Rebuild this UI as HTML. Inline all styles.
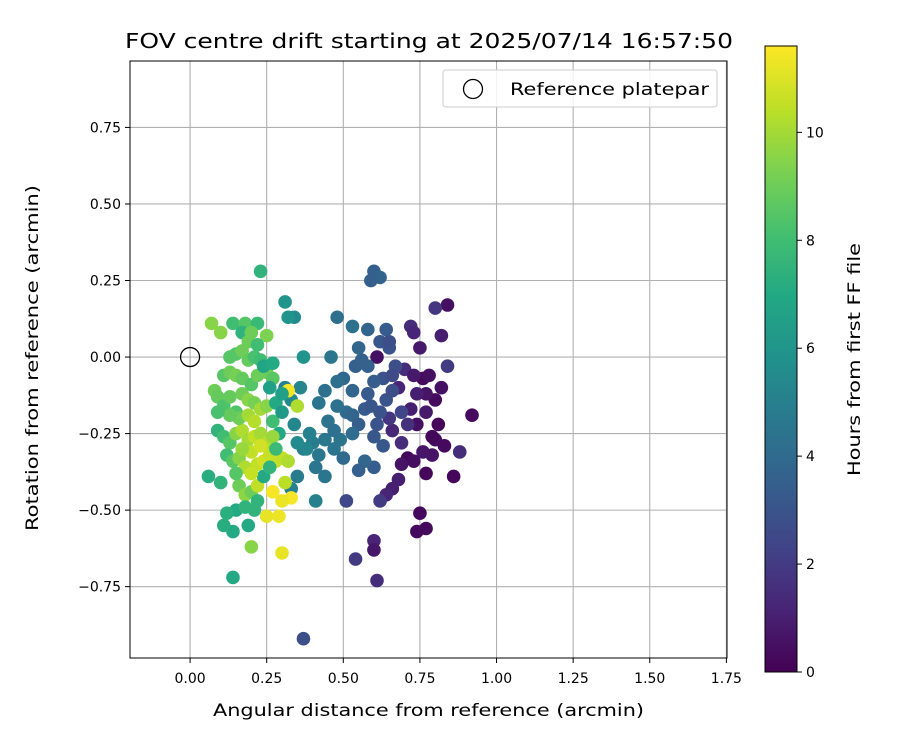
<!DOCTYPE html>
<html><head><meta charset="utf-8"><style>body{margin:0;background:#fff}svg{display:block;font-family:"DejaVu Sans","Liberation Sans",sans-serif}</style></head>
<body>
<svg id="chart" width="900" height="750" viewBox="0 0 900 750">
<defs>
<linearGradient id="vir" x1="0" y1="1" x2="0" y2="0">
<stop offset="0" stop-color="#440154"/><stop offset="0.1" stop-color="#482475"/><stop offset="0.2" stop-color="#414487"/><stop offset="0.3" stop-color="#355f8d"/><stop offset="0.4" stop-color="#2a788e"/><stop offset="0.5" stop-color="#21918c"/><stop offset="0.6" stop-color="#22a884"/><stop offset="0.7" stop-color="#44bf70"/><stop offset="0.8" stop-color="#7ad151"/><stop offset="0.9" stop-color="#bddf26"/><stop offset="1" stop-color="#fde725"/>
</linearGradient>
<clipPath id="pc"><rect x="130" y="61" width="597" height="597"/></clipPath>
</defs>
<text x="125" y="48" font-size="20" textLength="608" lengthAdjust="spacingAndGlyphs">FOV centre drift starting at 2025/07/14 16:57:50</text>
<g id="grid"></g>
<g id="points" clip-path="url(#pc)"></g>
<rect x="130" y="61" width="597" height="597" fill="none" stroke="#000" stroke-width="1"/>
<g id="ticks"></g>
<text x="213" y="716" font-size="16.7" textLength="431" lengthAdjust="spacingAndGlyphs">Angular distance from reference (arcmin)</text>
<text transform="translate(38,531) rotate(-90)" font-size="16.7" textLength="346" lengthAdjust="spacingAndGlyphs">Rotation from reference (arcmin)</text>
<g>
<rect x="443" y="70" width="274" height="37" rx="3" fill="#fff" fill-opacity="0.85" stroke="#ccc"/>
<circle cx="473" cy="89" r="9.5" fill="none" stroke="#000" stroke-width="1.3"/>
<text x="510" y="95" font-size="16.7" textLength="199" lengthAdjust="spacingAndGlyphs">Reference platepar</text>
</g>
<rect x="765" y="46" width="32" height="626" fill="url(#vir)" stroke="#000"/>
<g id="cticks"></g>
<text transform="translate(860,476) rotate(-90)" font-size="16.7" textLength="233" lengthAdjust="spacingAndGlyphs">Hours from first FF file</text>
</svg>
<script>
const xTicks=[0,0.25,0.5,0.75,1,1.25,1.5,1.75];
const xTickLabels=["0.00","0.25","0.50","0.75","1.00","1.25","1.50","1.75"];
const yTicks=[-0.75,-0.5,-0.25,0,0.25,0.5,0.75];
const yTickLabels=["−0.75","−0.50","−0.25","0.00","0.25","0.50","0.75"];
const cTicks=[0,2,4,6,8,10];
const refPoint=[0,0];
const ptX=[0.92,0.86,0.88,0.84,0.80,0.82,0.84,0.82,0.80,0.81,0.80,0.79,0.77,0.77,0.74,0.75,0.76,0.78,0.77,0.75,0.72,0.73,0.70,0.68,0.72,0.74,0.71,0.73,0.68,0.66,0.64,0.62,0.60,0.60,0.61,0.54,0.51,0.37,0.61,0.66,0.69,0.71,0.65,0.77,0.79,0.83,0.73,0.76,0.74,0.69,
0.60,0.62,0.59,0.58,0.53,0.64,0.62,0.65,0.67,0.63,0.60,0.58,0.55,0.54,0.50,0.48,0.46,0.44,0.42,0.45,0.51,0.53,0.55,0.57,0.59,0.62,0.64,0.66,0.61,0.60,0.63,0.60,0.57,0.55,0.53,0.49,0.47,0.44,0.42,0.40,0.47,0.50,0.44,0.41,0.37,0.39,0.36,0.33,0.31,0.34,0.32,0.31,0.37,0.48,0.56,0.65,0.66,0.69,0.58,0.53,0.48,0.35,0.33,0.41,0.38,0.35,0.34,
0.23,0.07,0.10,0.14,0.18,0.22,0.17,0.20,0.25,0.19,0.13,0.15,0.17,0.19,0.21,0.23,0.11,0.13,0.15,0.17,0.20,0.22,0.25,0.27,0.08,0.09,0.11,0.13,0.15,0.17,0.19,0.21,0.23,0.25,0.27,0.29,0.09,0.11,0.13,0.15,0.17,0.19,0.21,0.23,0.25,0.27,0.12,0.14,0.16,0.18,0.20,0.22,0.24,0.26,0.28,0.30,0.32,0.31,0.33,0.32,0.35,0.30,0.27,0.25,0.29,0.30,0.20,0.21,0.19,0.15,0.12,0.14,0.11,0.14,0.06,0.10,0.16,0.18,0.20,0.22,0.24,0.26,0.28,0.28,0.30,0.30,0.26,0.24,0.27,0.22,0.16,0.19,0.21,0.13,0.09,0.17,0.23,0.20,0.15,0.22,0.18];
const ptY=[-0.19,-0.39,-0.31,0.17,0.16,0.07,-0.03,-0.10,-0.14,-0.22,-0.27,-0.32,-0.38,-0.56,-0.57,-0.51,-0.07,-0.06,-0.12,0.03,0.10,0.08,-0.04,-0.10,-0.17,-0.22,-0.33,-0.34,-0.40,-0.43,-0.45,-0.47,-0.60,-0.63,-0.73,-0.66,-0.47,-0.92,0.00,-0.24,-0.28,-0.22,-0.20,-0.18,-0.26,-0.29,-0.06,-0.31,-0.12,-0.35,
0.28,0.26,0.25,0.09,0.10,0.09,0.05,0.03,-0.03,-0.07,-0.08,-0.03,0.03,-0.03,-0.07,-0.08,0.00,-0.11,-0.15,-0.21,-0.18,-0.19,-0.22,-0.17,-0.16,-0.18,-0.14,-0.11,-0.22,-0.26,-0.29,-0.36,-0.34,-0.37,-0.25,-0.27,-0.30,-0.27,-0.32,-0.28,-0.24,-0.33,-0.39,-0.36,-0.30,-0.25,-0.10,-0.14,-0.10,0.13,0.13,0.18,0.00,0.13,-0.01,0.05,-0.06,-0.18,-0.12,-0.11,-0.16,-0.39,-0.43,-0.47,-0.30,-0.28,-0.22,
0.28,0.11,0.08,0.11,0.11,0.11,0.08,0.08,0.07,0.05,0.00,0.01,0.02,-0.01,0.00,-0.01,-0.06,-0.05,-0.06,-0.07,-0.09,-0.06,-0.05,-0.07,-0.11,-0.13,-0.16,-0.13,-0.18,-0.12,-0.14,-0.15,-0.17,-0.16,-0.21,-0.25,-0.24,-0.26,-0.28,-0.25,-0.24,-0.27,-0.26,-0.25,-0.28,-0.26,-0.32,-0.34,-0.33,-0.36,-0.31,-0.35,-0.34,-0.32,-0.34,-0.33,-0.34,-0.41,-0.46,-0.11,-0.16,-0.47,-0.44,-0.52,-0.52,-0.64,-0.62,-0.50,-0.55,-0.50,-0.51,-0.57,-0.55,-0.72,-0.39,-0.41,-0.42,-0.45,-0.44,-0.42,-0.39,-0.36,-0.30,-0.15,-0.12,-0.18,-0.10,-0.03,-0.02,0.04,-0.20,-0.19,-0.21,-0.19,-0.18,-0.30,-0.29,-0.38,-0.38,-0.47,-0.49];
const ptHours=[0.3,0.2,1.5,0.5,1.8,1,2,0.5,0.3,0.2,0.4,0.6,0.2,0.3,0.3,0.3,0.3,0.5,0.6,0.8,1.5,1.2,1.5,1.2,1,0.5,0.2,0.4,1,1,1.2,2,1.2,0.7,1.5,2,2.5,2.8,0.5,1.3,1.5,1.6,1.8,0.8,0.2,0.3,0.8,0.7,1.0,0.6,
3.5,3.7,3.5,3.8,4.3,3.3,3.2,3,2.8,3,3.4,3.6,3.8,3.5,3.9,4.2,4.5,4.3,4.5,4.4,4,3.8,3.5,3.3,3.1,3,3,2.8,3,3.2,3.2,3.4,3.8,3.5,4.1,4.4,4.5,4.6,4.6,4.8,4.3,4.0,4.5,4.5,4.8,5,5.2,5.5,5,5.5,6,6,6,4.2,3.6,2.8,2.6,2.4,3.3,3.8,4.3,4.8,5,5,5.3,5.5,5.3,
7.5,9.5,9.5,8,8.5,7.8,7.5,9,9.3,9,8.5,8.5,9,8.8,8.2,8,8.5,9,9.2,8.8,8.5,9,9,8.6,9,8.8,8.3,8.8,8.4,9,9.5,9.2,10,9.5,8,7,7.5,8,8.5,9.5,10.2,10,10.5,10,10.3,9.8,8,8.6,9.5,10.2,10.5,10.5,10.8,10.6,10.6,10.5,10.2,10.4,11.5,11.5,10.2,11.3,11.5,11.2,11.3,11.2,9.5,7.5,7,7,7.3,7,7.2,7,7.2,7.5,9,9.6,9,10.5,7,7.5,7.8,7,6.5,6.2,6.5,6.8,7,8,9,10,10.3,8.8,8.2,9.8,10.8,10.6,8.5,7.5,7.5];
const NS="http://www.w3.org/2000/svg";
const xMin=-0.196,xMax=1.752,yMin=-0.983,yMax=0.967,cMax=11.6;
const L=130,R=727,T=61,B=658;
const sx=v=>L+(v-xMin)/(xMax-xMin)*(R-L);
const sy=v=>B-(v-yMin)/(yMax-yMin)*(B-T);
const sc=v=>672-v/cMax*626;
const vir=[[68,1,84],[72,36,117],[65,68,135],[53,95,141],[42,120,142],[33,145,140],[34,168,132],[68,191,112],[122,209,81],[189,223,38],[253,231,37]];
function cmap(h){let t=Math.max(0,Math.min(1,h/cMax))*(vir.length-1);let i=Math.min(vir.length-2,Math.floor(t)),f=t-i;const c=vir[i].map((a,k)=>Math.round(a+(vir[i+1][k]-a)*f));return `rgb(${c})`;}
function mk(tag,at,parent){const e=document.createElementNS(NS,tag);for(const k in at)e.setAttribute(k,at[k]);parent.appendChild(e);return e;}
const grid=document.getElementById('grid'),ticks=document.getElementById('ticks'),pts=document.getElementById('points'),ct=document.getElementById('cticks');
xTicks.forEach((v,i)=>{const x=sx(v);
const g=mk('line',{x1:x,x2:x,y1:T,y2:B,stroke:'#b0b0b0','stroke-width':1.1},grid);


mk('line',{x1:x,x2:x,y1:B,y2:B+5,stroke:'#000'},ticks);
const t=mk('text',{x:x,y:B+25,'font-size':14,'text-anchor':'middle'},ticks);t.textContent=xTickLabels[i];

});
yTicks.forEach((v,i)=>{const y=sy(v);
const g=mk('line',{x1:L,x2:R,y1:y,y2:y,stroke:'#b0b0b0','stroke-width':1.1},grid);


mk('line',{x1:L-5,x2:L,y1:y,y2:y,stroke:'#000'},ticks);
const t=mk('text',{x:L-9,y:y+5,'font-size':14,'text-anchor':'end'},ticks);t.textContent=yTickLabels[i];

});
cTicks.forEach(v=>{const y=sc(v);
mk('line',{x1:797,x2:802,y1:y,y2:y,stroke:'#000'},ct);
const t=mk('text',{x:806,y:y+5,'font-size':14},ct);t.textContent=String(v);

});
ptX.forEach((v,i)=>{const c=mk('circle',{cx:sx(v),cy:sy(ptY[i]),r:6.8,fill:cmap(ptHours[i])},pts);

});
const rp=mk('circle',{cx:sx(refPoint[0]),cy:sy(refPoint[1]),r:9.5,fill:'none',stroke:'#000','stroke-width':1.3},pts);


</script>
</body></html>
